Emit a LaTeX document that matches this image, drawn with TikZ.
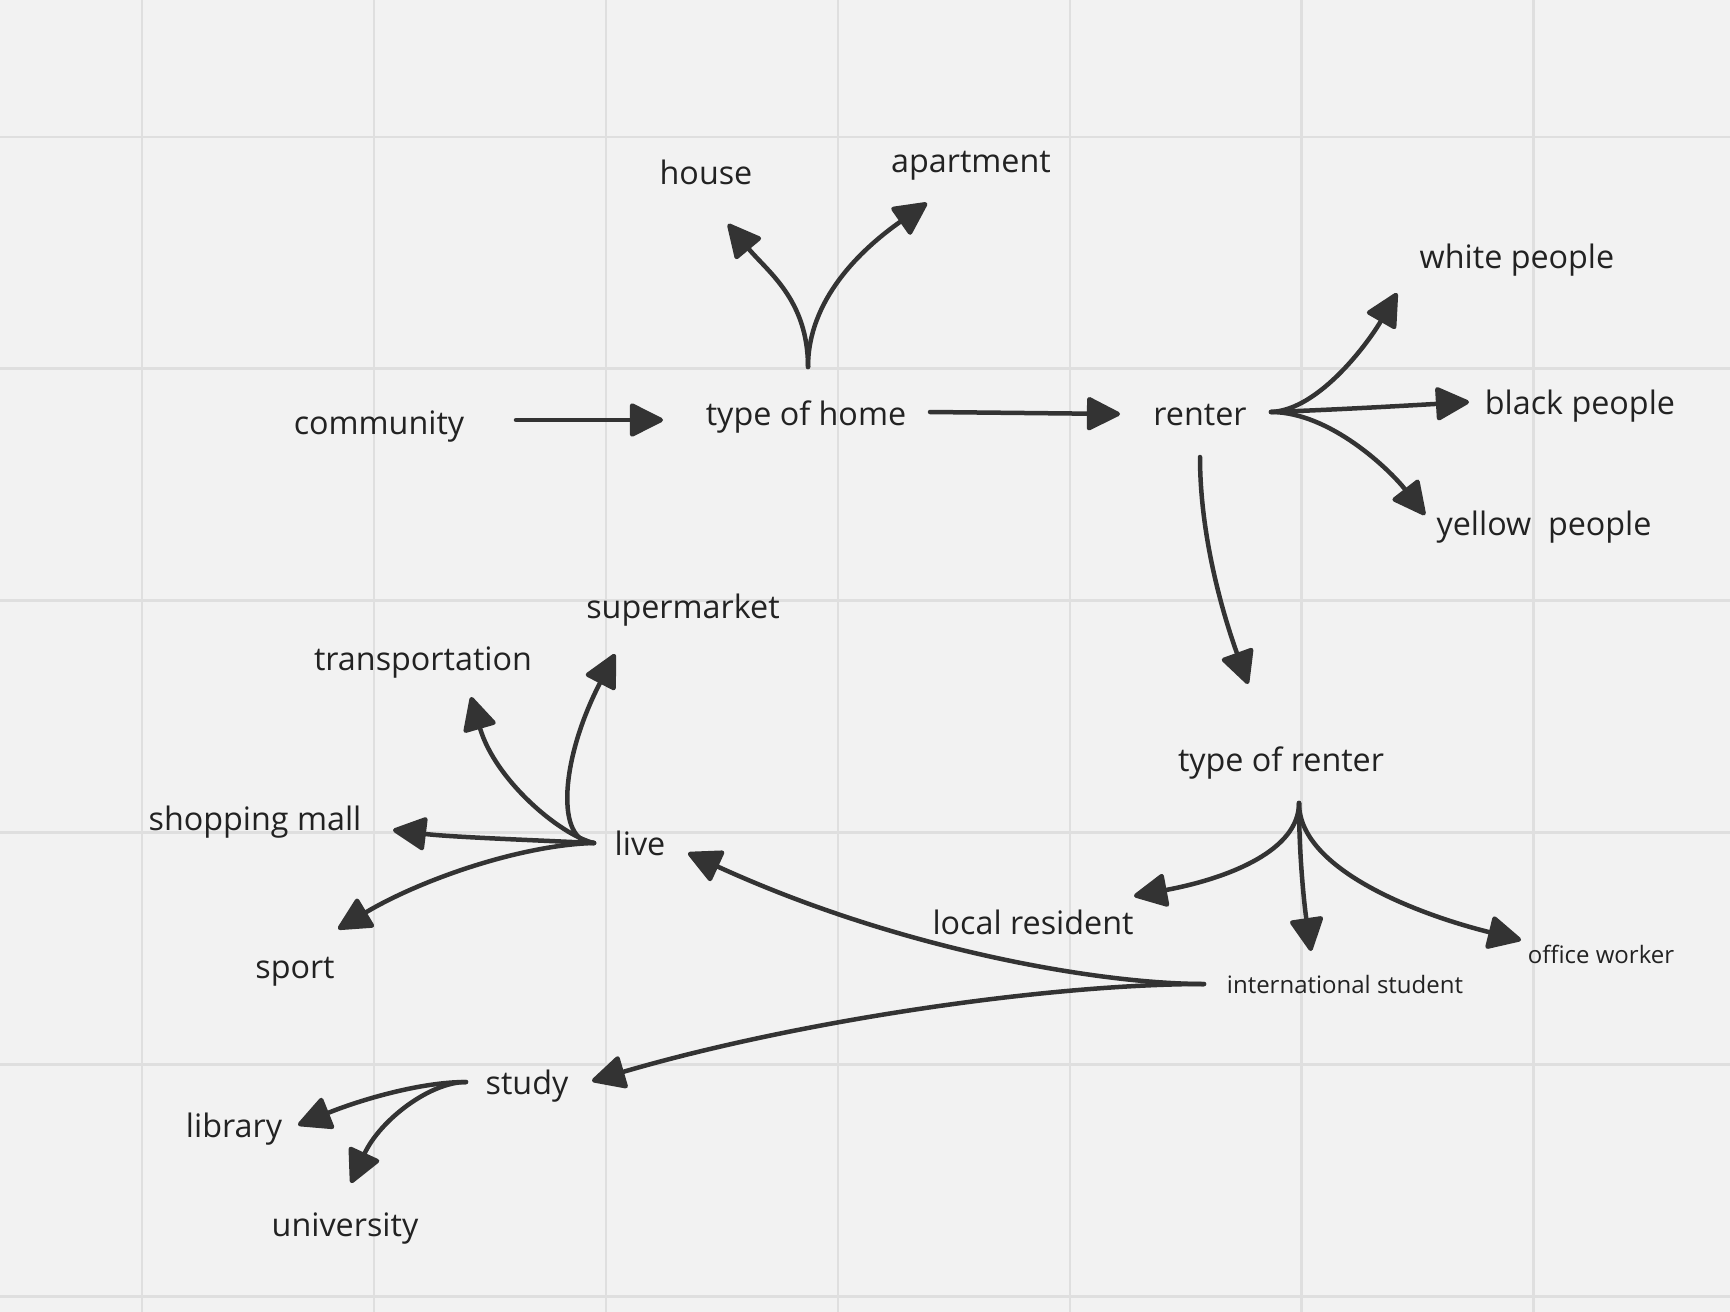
\documentclass[tikz,border=0pt]{standalone}
\usepackage{fontspec}
\setmainfont{Open Sans}
\usetikzlibrary{arrows.meta}
\definecolor{bg}{HTML}{F2F2F2}
\definecolor{gridc}{HTML}{DFDFDF}
\definecolor{ink}{HTML}{333333}
\definecolor{txt}{HTML}{222222}
\begin{document}
\begin{tikzpicture}[x=1pt,y=-1pt,
  lbl/.style={text=txt,font=\fontsize{32.3}{38}\selectfont,inner sep=0pt,anchor=base},
  small/.style={text=txt,font=\fontsize{24}{29}\selectfont,inner sep=0pt,anchor=base},
  conn/.style={draw=ink,line width=4.5pt,line cap=round,-{Triangle[length=36pt,width=35pt,round]}}]
\fill[bg] (0,0) rectangle (1730,1312);
\useasboundingbox (0,0) rectangle (1730,1312);
\foreach \i in {0,...,6} \draw[gridc,line width=2.5pt] ({142.2+231.9*\i},0) -- ++(0,1312);
\foreach \j in {0,...,5} \draw[gridc,line width=2.5pt] (0,{136.8+231.9*\j}) -- ++(1730,0);

% text nodes
\node[lbl] (community) at (379,434) {community};
\node[lbl] (home) at (806,425) {type of home};
\node[lbl] (house) at (706,184) {house};
\node[lbl] (apt) at (971,172) {apartment};
\node[lbl] (renter) at (1200,425) {renter};
\node[lbl] (white) at (1517,268) {white people};
\node[lbl] (black) at (1580,414) {black people};
\node[lbl] (yellow) at (1544,535) {yellow\ \ people};
\node[lbl] (rtype) at (1281,771) {type of renter};
\node[lbl] (local) at (1033,934) {local resident};
\node[small] (intl) at (1345,993) {international student};
\node[small] (office) at (1601,963) {office worker};
\node[lbl] (live) at (640,855) {live};
\node[lbl] (super) at (683,618) {supermarket};
\node[lbl] (trans) at (423,670) {transportation};
\node[lbl] (mall) at (255,830) {shopping mall};
\node[lbl] (sport) at (295,978) {sport};
\node[lbl] (study) at (527,1094) {study};
\node[lbl] (library) at (234,1137) {library};
\node[lbl] (univ) at (345,1236) {university};

% connector ends
\coordinate (commR) at (516,420);
\coordinate (homeL) at (663,420);
\coordinate (homeR) at (930,412);
\coordinate (renterL) at (1120,414);
\coordinate (homeT) at (808,367);
\coordinate (houseT) at (728,224);
\coordinate (aptT) at (927,203);
\coordinate (renterR) at (1271,412);
\coordinate (whiteT) at (1397,293);
\coordinate (blackT) at (1469,402);
\coordinate (yellowT) at (1425,515);
\coordinate (renterB) at (1200,457);
\coordinate (rtypeT) at (1248,684);
\coordinate (rtypeB) at (1299,803);
\coordinate (localT) at (1134,896);
\coordinate (intlT) at (1311,951);
\coordinate (officeT) at (1521,940);
\coordinate (intlL) at (1204,984);
\coordinate (liveT) at (688,853);
\coordinate (studyT) at (592,1081);
\coordinate (liveL) at (594,843);
\coordinate (superT) at (615,654);
\coordinate (transT) at (471,697);
\coordinate (mallT) at (393,830);
\coordinate (sportT) at (338,929);
\coordinate (studyL) at (466,1082);
\coordinate (libraryT) at (298,1125);
\coordinate (univT) at (351,1183);

% connectors
\draw[conn] (commR) -- (homeL);
\draw[conn] (homeR) -- (renterL);
\draw[conn] (homeT) .. controls (808,300) and (768,272) .. (houseT);
\draw[conn] (homeT) .. controls (808,300) and (860,250) .. (aptT);
\draw[conn] (renterR) .. controls (1320,410) and (1370,340) .. (whiteT);
\draw[conn] (renterR) .. controls (1330,410) and (1400,406) .. (blackT);
\draw[conn] (renterR) .. controls (1330,412) and (1390,470) .. (yellowT);
\draw[conn] (renterB) .. controls (1200,540) and (1225,620) .. (rtypeT);
\draw[conn] (rtypeB) .. controls (1299,850) and (1230,878) .. (localT);
\draw[conn] (rtypeB) .. controls (1299,860) and (1305,910) .. (intlT);
\draw[conn] (rtypeB) .. controls (1299,870) and (1420,915) .. (officeT);
\draw[conn] (intlL) .. controls (1100,984) and (900,950) .. (liveT);
\draw[conn] (intlL) .. controls (1050,984) and (800,1020) .. (studyT);
\draw[conn] (liveL) .. controls (555,843) and (560,760) .. (superT);
\draw[conn] (liveL) .. controls (560,835) and (495,780) .. (transT);
\draw[conn] (liveL) .. controls (530,840) and (450,837) .. (mallT);
\draw[conn] (liveL) .. controls (520,845) and (420,880) .. (sportT);
\draw[conn] (studyL) .. controls (420,1082) and (360,1100) .. (libraryT);
\draw[conn] (studyL) .. controls (430,1082) and (380,1120) .. (univT);
\end{tikzpicture}
\end{document}
